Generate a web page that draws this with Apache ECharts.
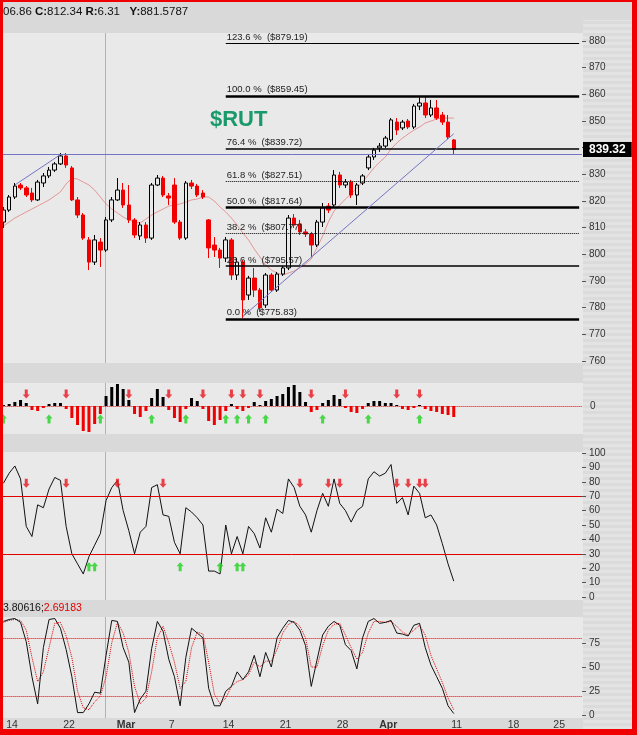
<!DOCTYPE html>
<html><head><meta charset="utf-8">
<script src="https://cdn.jsdelivr.net/npm/echarts/dist/echarts.min.js"></script>
<style>html,body{margin:0;padding:0;background:#d9d9d9}#c{width:637px;height:735px}</style>
</head><body><div id="c"></div><script>
// ---------- categories ----------
const days = ['Feb 11','Feb 14','Feb 15','Feb 16','Feb 17','Feb 18','Feb 22','Feb 23','Feb 24','Feb 25',
 'Feb 28','Mar 1','Mar 2','Mar 3','Mar 4','Mar 7','Mar 8','Mar 9','Mar 10','Mar 11',
 'Mar 14','Mar 15','Mar 16','Mar 17','Mar 18','Mar 21','Mar 22','Mar 23','Mar 24','Mar 25',
 'Mar 28','Mar 29','Mar 30','Mar 31','Apr 1','Apr 4','Apr 5','Apr 6','Apr 7','Apr 8',
 'Apr 11','Apr 12','Apr 13','Apr 14','Apr 15','Apr 18','Apr 19','Apr 20','Apr 21','Apr 25','Apr 26','Apr 27'];
const tickDays = ['Feb 14','Feb 22','Mar 1','Mar 7','Mar 14','Mar 21','Mar 28','Apr 1','Apr 11','Apr 18','Apr 25'];
const tickText = ['14','22','Mar','7','14','21','28','Apr','11','18','25'];
const tickBold = ['Mar','Apr'];

// ---------- price (half-day bars) ----------
const open = [812.1,816.6,821.5,826,824.9,823,820.4,826.75,829.4,831.6,
 833.9,836.9,832.4,820.4,814.75,805.4,797.1,804.6,801.6,812.9,
 820.4,824.1,818.5,812.9,806.9,811,806.1,826,828.6,821.9,
 826,812.1,806.1,826.75,825.6,823,812.9,803.5,801.6,798.6,
 805.4,792.25,797.1,784.75,791.1,786.6,781,792.25,786.6,792.6,
 794.9,813.6,811.4,808.4,807.6,803.5,812.1,818.1,818.5,829.75,
 826,827.1,822.25,826.75,832.4,836.5,839.9,840.6,842.9,849.6,
 847.4,850,847.75,855.6,856.75,852.25,854.9,852.25,849.6,842.9];
const close = [816.6,821.5,825.6,824.9,822.25,820.4,827.1,829.4,831.6,833.9,
 836.9,833.5,820.4,814.75,806.1,797.1,805.4,801.6,812.9,820.4,
 824.1,818.5,812.9,807.25,811,806.1,826,828.6,822.25,821.1,
 812.1,806.1,826.75,825.6,822.25,821.5,802.4,801.6,798.6,805.4,
 792.25,797.1,782.9,791.1,786.6,779.9,792.25,786.6,792.6,794.9,
 813.6,811,808.4,807.6,803.5,812.1,817.4,816.6,829.75,826,
 827.1,822.25,826,829.4,836.5,839.1,840.6,843.6,850.4,846.6,
 849.6,847.75,855.6,856.75,852.25,854.9,851.1,849.6,844,839.32];
const low = [809.9,815.9,820.75,824.1,821.5,819.6,820,825.25,828.6,830.9,
 833.5,832.4,820,813.6,805.4,794.1,796,795.25,800.9,812.1,
 820,817.4,811.75,806.1,805.4,804.25,805.4,825.6,821.5,818.5,
 811.4,805.4,805.4,824.5,821.5,820.75,798.6,799,794.9,797.1,
 790.4,790.4,776.1,782.9,784,778.4,779.9,785.9,785.9,791.9,
 794.1,809.9,807.25,806.5,799,802.75,810.25,815.5,817.75,824.9,
 824.9,821.1,818.5,826,831.6,835.4,838.4,839.9,842.1,844.75,
 846.6,847,847,854.1,851.1,851.5,850.4,848.5,843.25,837.6];
const high = [817.75,822.25,826.75,826.75,825.6,824.9,827.9,830.5,832.75,834.6,
 838,838,833.1,821.5,815.5,806.5,807.25,806.1,814,821.5,
 828.6,826.75,826,813.6,812.1,812.1,826.75,829.75,829.4,823,
 828.6,812.9,827.5,827.9,826.4,824.1,813.25,806.5,802.4,806.5,
 806.1,798.6,797.9,791.9,794.9,787.4,793,793,793.4,795.6,
 814.75,815.1,812.9,809.5,808.4,812.9,819.25,819.25,831.6,830.9,
 828.25,827.9,826.75,830.1,837.25,839.9,841.75,844.4,851.1,851.1,
 850.4,850.75,856.4,858.8,859,857.9,857.9,853.4,852.25,843.25];
const movAvg = [810.6,812.1,813.6,814.75,815.9,817,818.1,819.25,820.4,821.9,
 823.4,826.4,828.6,828.25,827.1,826,824.1,821.5,818.9,817,
 815.5,814,812.9,812.1,811.75,813.25,814.75,815.9,817,818.1,
 818.5,818.9,819.6,820.4,820.75,821.5,821.5,820,817.75,815.9,
 813.6,811,808,805.4,802,799,796,794.1,793,792.25,
 793,793.75,794.9,796.4,798.25,802.4,806.9,812.1,816.25,818.5,
 820.75,822.6,824.9,827.1,829.75,832.4,834.6,836.5,839.5,841.75,
 843.6,845.1,846.6,847.75,849.25,850,850.75,851.1,851.1,851.1];

// Fibonacci retracement levels
const fibPct = ['123.6','100.0','76.4','61.8','50.0','38.2','23.6','0.0'];
const fibVal = [879.19,859.45,839.72,827.51,817.64,807.77,795.57,775.83];
const fibStartSlot = 39;
const horizLevel = 837.6;
const trendA = [[2, 826.0], [10, 837.4]];
const trendB = [[42, 776.7], [79, 845.2]];
const lastPrice = 839.32;

// ---------- MACD histogram ----------
const macdHist = [0.1,0.2,0.4,0.6,0.3,-0.4,-0.5,-0.2,0.2,0.3,
 0.3,-0.3,-1.2,-1.9,-2.5,-2.6,-1.8,-0.8,1.0,1.9,
 2.2,1.7,0.6,-0.8,-1.1,-0.5,0.8,1.7,0.9,-0.4,
 -1.2,-1.6,-0.3,0.8,0.5,-0.3,-1.5,-1.9,-1.4,-0.5,
 0.2,-0.3,-0.5,-0.2,0.4,0.1,0.5,0.7,1.0,1.2,
 1.9,2.1,1.4,0.4,-0.6,-0.4,0.3,0.6,1.1,0.7,
 -0.2,-0.6,-0.7,-0.3,0.3,0.5,0.5,0.3,0.3,0.1,
 -0.3,-0.4,-0.2,0.1,-0.3,-0.5,-0.6,-0.8,-0.9,-1.1];
const macdSellSlots = [4,11,22,29,35,40,42,45,54,60,69,73];
const macdBuySlots = [0,8,17,26,32,39,41,43,46,56,64,73];
const macdSellY = 1.2, macdBuyY = -1.3;

// ---------- RSI ----------
const rsi = [79,86,91,82,49,42,64,62,75,83,
 81,49,30,23,16,28,36,44,67,76,
 81,60,46,30,45,49,76,78,57,56,
 38,30,62,59,55,50,18,18,16,50,
 30,42,30,49,44,34,55,45,61,58,
 82,76,63,57,45,60,72,63,82,65,
 60,52,60,63,82,87,84,86,92,65,
 69,57,77,72,55,57,50,37,23,11];
const rsiSellSlots = [4,11,20,28,52,57,59,69,71,73,74];
const rsiBuySlots = [15,16,31,38,41,42];
const rsiSellY = 79, rsiBuyY = 21;

// ---------- Stochastic ----------
const stochK = [97,99,100,96,76,40,12,70,99,100,
 90,68,40,3,3,12,24,23,62,98,
 97,70,55,3,17,25,69,97,87,58,
 40,10,60,90,85,80,28,10,10,25,
 30,45,37,45,62,40,65,50,80,90,
 98,96,88,72,30,57,83,92,97,93,
 73,67,48,80,97,100,95,96,98,85,
 84,82,93,95,70,52,40,28,10,2];
const stochD = [96,98,99,98,88,60,35,45,70,95,
 96,82,60,25,8,6,14,20,40,75,
 96,85,65,30,12,18,45,80,92,75,
 55,28,35,70,86,84,55,22,12,18,
 30,35,37,42,55,50,56,56,68,85,
 94,97,92,80,50,50,72,88,94,95,
 83,70,58,65,85,97,97,96,97,92,
 86,83,88,93,83,62,48,34,18,6];

// ---------- build ----------
const slots = [];
days.forEach((d, i) => { if (i > 0) slots.push(d + ' AM'); if (i < days.length - 1) slots.push(d + ' PM'); });
const labelAt = {};
tickDays.forEach((d, i) => { labelAt[d + ' PM'] = tickBold.includes(tickText[i]) ? '{b|' + tickText[i] + '}' : tickText[i]; });

const RED = '#f00000', BLACK = '#000000', BLUE = '#7474c4';
const candleData = open.map((o, i) => [o, close[i], low[i], high[i]]);

const plotL = 0.6, plotR = 55, W = 637;
const plotW = W - plotL - plotR;
const slotW = plotW / slots.length;
const sepSlot = 18;
const sepX = Math.round(plotL + (sepSlot + 0.5) * slotW - 1) + 0.5;

const FONT = 'Liberation Sans, Arial, sans-serif';
const fibStyles = [
  { width: 1, type: 'solid' }, { width: 2.5, type: 'solid' }, { width: 1.5, type: 'solid' }, { width: 1, type: 'dotted' },
  { width: 2.5, type: 'solid' }, { width: 1, type: 'dotted' }, { width: 1.5, type: 'solid' }, { width: 2.5, type: 'solid' }];
const fibLines = fibVal.map((v, i) => [
  { coord: [fibStartSlot, v], lineStyle: Object.assign({ color: '#000' }, fibStyles[i]),
    label: { show: true, position: 'insideStartTop', distance: 1, formatter: fibPct[i] + ' %  ($' + v.toFixed(2) + ')',
      color: '#222', fontSize: 9.5, fontFamily: FONT } },
  { coord: [slots.length - 1, v] }
]);

const priceMarkLines = fibLines.concat([
  { yAxis: horizLevel, lineStyle: { color: BLUE, width: 1, type: 'solid' }, label: { show: false } },
  [{ coord: trendA[0], lineStyle: { color: BLUE, width: 1, type: 'solid' } }, { coord: trendA[1] }],
  [{ coord: trendB[0], lineStyle: { color: BLUE, width: 1, type: 'solid' } }, { coord: trendB[1] }],
  { yAxis: lastPrice, lineStyle: { color: 'rgba(0,0,0,0)', width: 0 },
    label: { show: true, position: 'end', distance: 1, formatter: lastPrice.toFixed(2), backgroundColor: '#000',
      color: '#fff', fontWeight: 'bold', fontSize: 12, fontFamily: FONT, padding: [2, 6, 1, 6], opacity: 1 } }
]);

const arrowDown = 'path://M2,0 L5,0 L5,5 L7,5 L3.5,9 L0,5 L2,5 Z';
const arrowUp = 'path://M3.5,0 L7,4 L5,4 L5,9 L2,9 L2,4 L0,4 Z';
function arrows(slotsArr, y, grid, sym, color) {
  return { type: 'scatter', xAxisIndex: grid, yAxisIndex: grid, symbol: sym, symbolSize: [7, 9],
    itemStyle: { color: color }, silent: true, z: 5, data: slotsArr.map(s => [s, y]) };
}

const grids = [
  { left: plotL, right: plotR, top: 41, height: 320 },
  { left: plotL, right: plotR, top: 383, height: 51 },
  { left: plotL, right: plotR, top: 453, height: 144 },
  { left: plotL, right: plotR, top: 618.5, height: 97 }
];
const yCommon = { type: 'value', position: 'right', axisLine: { show: false },
  axisTick: { show: true, length: 4, lineStyle: { color: '#555' } },
  axisLabel: { color: '#333', fontSize: 10, margin: 7, fontFamily: FONT }, splitLine: { show: false } };

// striped axis column pattern
const pat = document.createElement('canvas'); pat.width = 4; pat.height = 6;
const pctx = pat.getContext('2d'); pctx.fillStyle = '#e3e3e3'; pctx.fillRect(0, 0, 4, 3); pctx.fillStyle = '#dbdbdb'; pctx.fillRect(0, 3, 4, 3);

const panelFill = '#e9e9e9';
const panels = [[33, 330], [383, 51], [452, 148], [617, 101]];
const graphics = [];
panels.forEach((p, i) => graphics.push({ type: 'rect', id: 'p' + i, silent: true, z: -5, shape: { x: 0, y: p[0], width: 583, height: p[1] }, style: { fill: panelFill } }));
graphics.push({ type: 'rect', id: 'axcol', silent: true, z: -5, shape: { x: 583, y: 20, width: 49, height: 710 }, style: { fill: { image: pat, repeat: 'repeat' } } });
panels.forEach((p, i) => graphics.push({ type: 'line', id: 'sep' + i, silent: true, z: 1, shape: { x1: sepX, y1: p[0], x2: sepX, y2: p[0] + p[1] }, style: { stroke: '#a9b5b5', lineWidth: 1 } }));
graphics.push({ type: 'text', id: 'hdr', silent: true, z: 50, x: 3, y: 12,
  style: { text: '06.86 {b|C:}812.34 {b|R:}6.31   {b|Y:}881.5787', font: '11.5px ' + FONT, fill: '#111', verticalAlign: 'middle',
    rich: { b: { fontWeight: 'bold', fontSize: 11.5, fontFamily: FONT, fill: '#111' } } } });
graphics.push({ type: 'text', id: 'rut', silent: true, z: 50, x: 210, y: 120,
  style: { text: '$RUT', font: 'bold 22px ' + FONT, fill: '#1a9a6a', verticalAlign: 'middle' } });
graphics.push({ type: 'text', id: 'sth', silent: true, z: 50, x: 3, y: 608,
  style: { text: '3.80616;{r|2.69183}', font: '10.5px ' + FONT, fill: '#111', verticalAlign: 'middle',
    rich: { r: { fill: '#e00000', fontSize: 10.5, fontFamily: FONT } } } });
[[0, 0, 3, 735], [632, 0, 5, 735], [0, 0, 637, 2], [0, 729, 637, 6]].forEach((r, i) =>
  graphics.push({ type: 'rect', id: 'bd' + i, silent: true, z: 100, shape: { x: r[0], y: r[1], width: r[2], height: r[3] }, style: { fill: '#f00000' } }));

const option = {
  animation: false,
  backgroundColor: '#d9d9d9',
  textStyle: { fontFamily: FONT },
  grid: grids,
  xAxis: [0, 1, 2, 3].map(i => ({
    type: 'category', gridIndex: i, data: slots, boundaryGap: true,
    axisLine: { show: false }, axisTick: { show: false }, splitLine: { show: false },
    axisLabel: i === 3 ? {
      show: true, interval: (idx, val) => labelAt[val] !== undefined, formatter: v => labelAt[v] || '',
      color: '#333', fontSize: 10.5, margin: 4, padding: [0, slotW, 0, 0], fontFamily: FONT,
      rich: { b: { fontWeight: 'bold', fontSize: 10.5, color: '#333', fontFamily: FONT } }
    } : { show: false }
  })),
  yAxis: [
    Object.assign({}, yCommon, { gridIndex: 0, min: 760, max: 880, interval: 10 }),
    { type: 'value', gridIndex: 1, min: -2.8, max: 2.3, show: false },
    Object.assign({}, yCommon, { gridIndex: 2, min: 0, max: 100, interval: 10 }),
    Object.assign({}, yCommon, { gridIndex: 3, min: 0, max: 100, interval: 25,
      axisLabel: Object.assign({}, yCommon.axisLabel, { showMaxLabel: false }) })
  ],
  series: [
    { type: 'line', name: 'MA', xAxisIndex: 0, yAxisIndex: 0, data: movAvg, symbol: 'none', silent: true, z: 1,
      lineStyle: { color: 'rgba(225,95,95,0.6)', width: 1 } },
    { type: 'candlestick', name: '$RUT', xAxisIndex: 0, yAxisIndex: 0, barWidth: 4, data: candleData, z: 3,
      itemStyle: { color: 'rgba(0,0,0,0)', color0: RED, borderColor: BLACK, borderColor0: RED, borderWidth: 1 },
      markLine: { symbol: ['none', 'none'], silent: true, animation: false, label: { show: false }, data: priceMarkLines } },
    { type: 'bar', name: 'MACD', xAxisIndex: 1, yAxisIndex: 1, barWidth: 3, silent: true,
      data: macdHist.map(v => ({ value: v, itemStyle: { color: v >= 0 ? BLACK : RED } })),
      markLine: { symbol: ['none', 'none'], silent: true, lineStyle: { color: '#e00000', width: 1, type: 'dotted' },
        data: [{ yAxis: 0, label: { show: true, position: 'end', distance: 8, formatter: '0', color: '#333', fontSize: 10, fontFamily: FONT } }] } },
    arrows(macdSellSlots, macdSellY, 1, arrowDown, '#e8141e'),
    arrows(macdBuySlots, macdBuyY, 1, arrowUp, '#1ed21e'),
    { type: 'line', name: 'RSI', xAxisIndex: 2, yAxisIndex: 2, data: rsi, symbol: 'none', silent: true,
      lineStyle: { color: '#111', width: 1 },
      markLine: { symbol: ['none', 'none'], silent: true, label: { show: false }, lineStyle: { color: '#e00000', width: 1, type: 'solid' },
        data: [{ yAxis: 70 }, { yAxis: 30 }] } },
    arrows(rsiSellSlots, rsiSellY, 2, arrowDown, '#e8141e'),
    arrows(rsiBuySlots, rsiBuyY, 2, arrowUp, '#1ed21e'),
    { type: 'line', name: '%D', xAxisIndex: 3, yAxisIndex: 3, data: stochD, symbol: 'none', silent: true,
      lineStyle: { color: '#e00000', width: 1, type: 'dotted' },
      markLine: { symbol: ['none', 'none'], silent: true, label: { show: false }, lineStyle: { color: '#e00000', width: 1, type: 'dotted' },
        data: [{ yAxis: 80 }, { yAxis: 20 }] } },
    { type: 'line', name: '%K', xAxisIndex: 3, yAxisIndex: 3, data: stochK, symbol: 'none', silent: true,
      lineStyle: { color: '#111', width: 1 } }
  ],
  graphic: { elements: graphics }
};
const chart = echarts.init(document.getElementById('c'), null, { renderer: 'canvas' });
chart.setOption(option);
</script></body></html>
